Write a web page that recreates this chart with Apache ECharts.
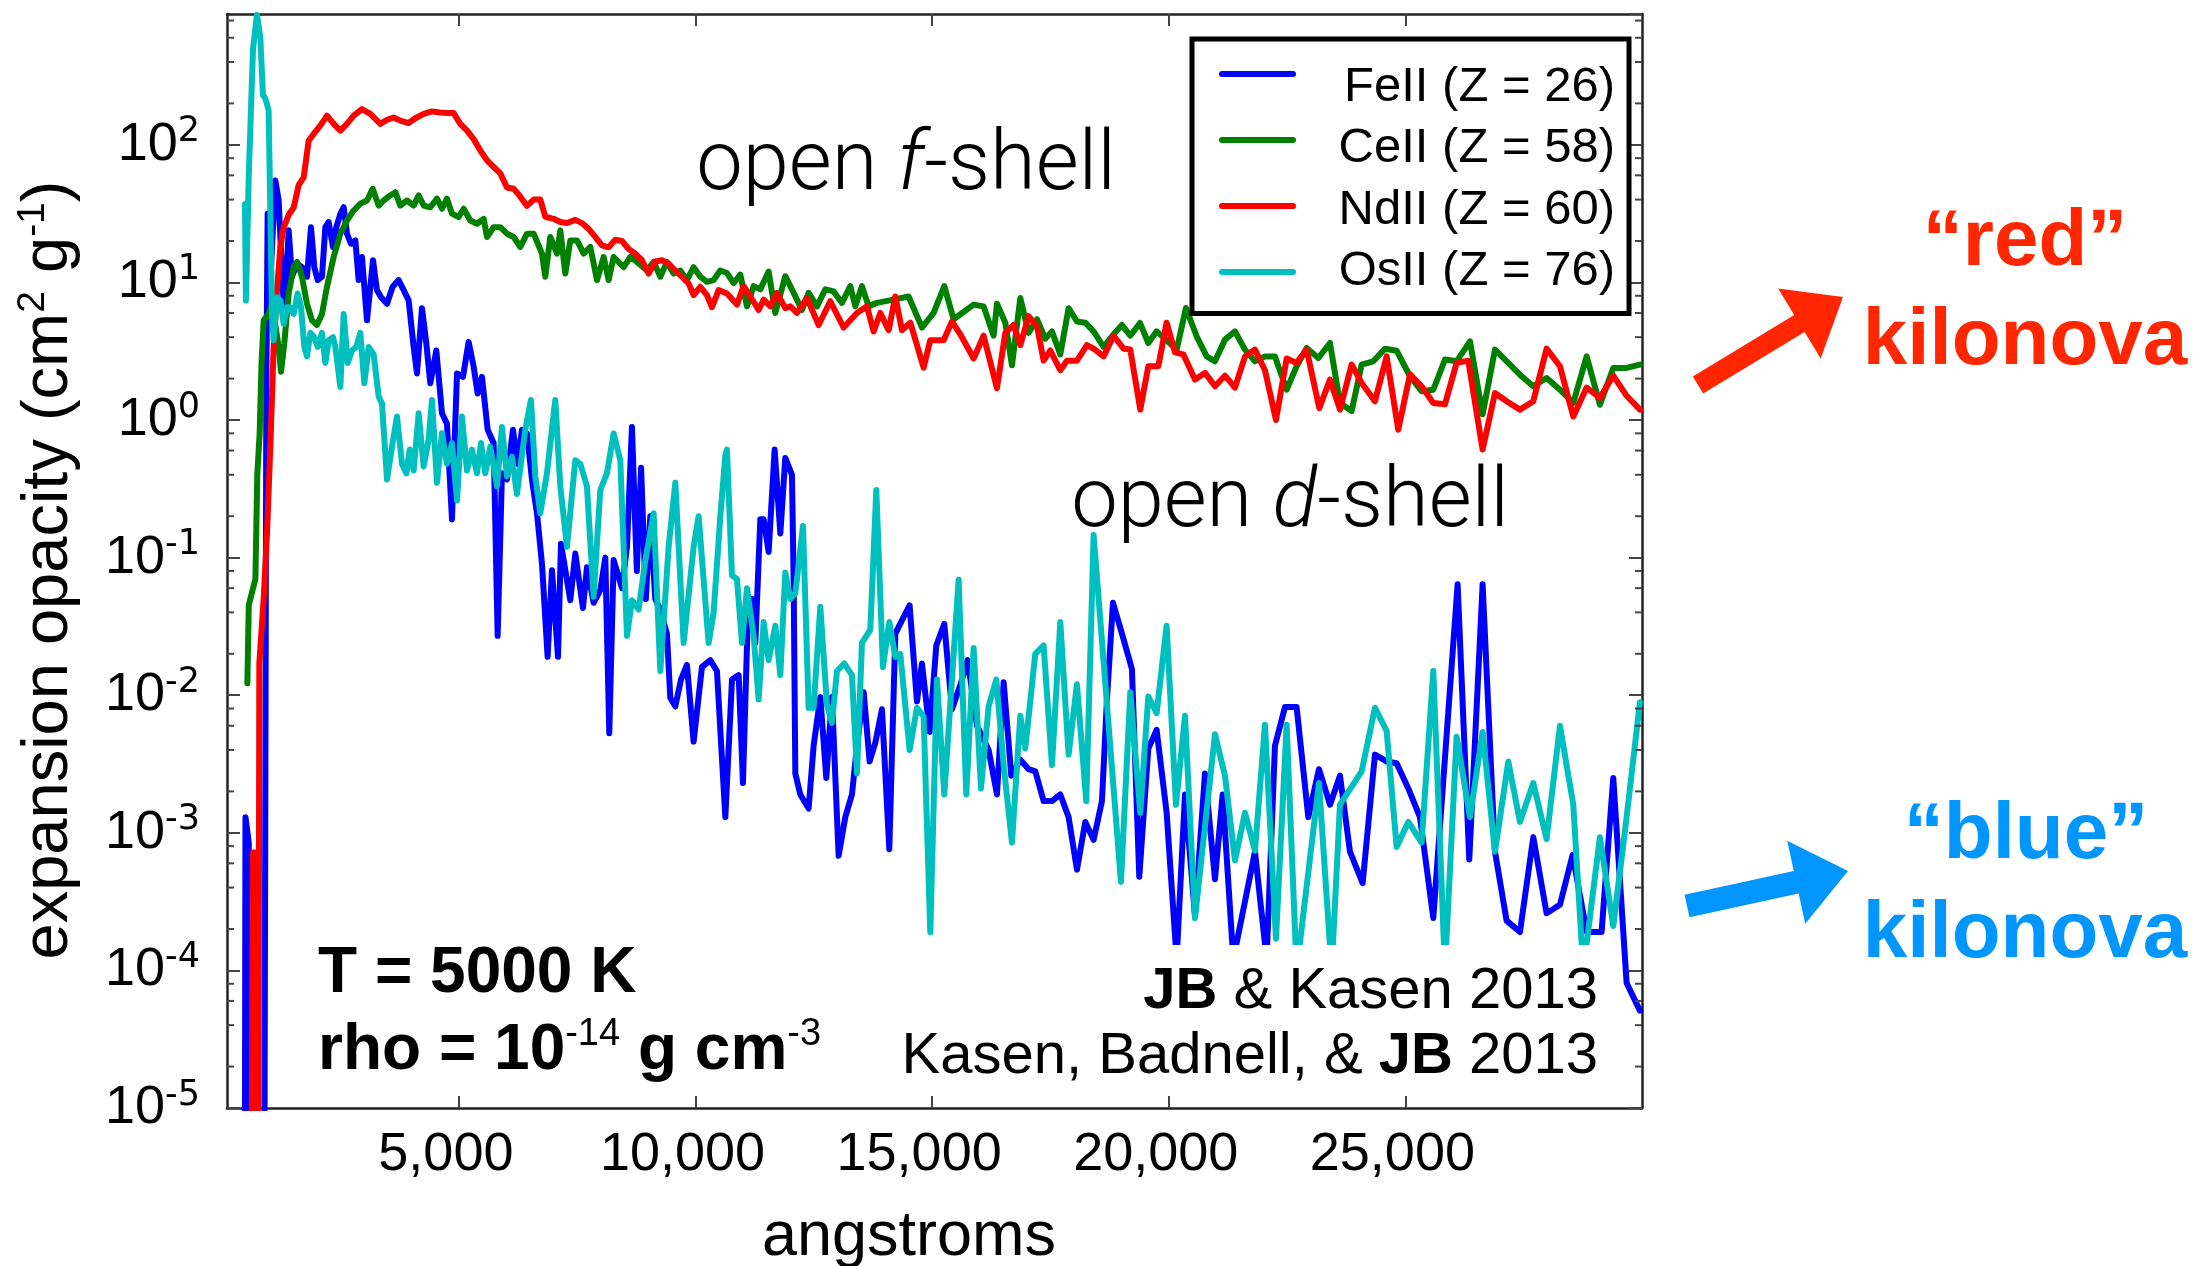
<!DOCTYPE html>
<html>
<head>
<meta charset="utf-8">
<title>Expansion opacity of FeII, CeII, NdII and OsII</title>
<script src="https://cdn.jsdelivr.net/npm/echarts@6/dist/echarts.min.js"></script>
<style>
  html, body { margin: 0; padding: 0; background: #ffffff; }
  #chart { width: 2207px; height: 1266px; }
</style>
</head>
<body>
<div id="chart"></div>
<script>
// ---------------------------------------------------------------------------
// Data: wavelength (angstroms) and expansion opacity (cm^2 g^-1).
// Values below 1e-5 sit under the axis floor and are clipped by the grid.
// ---------------------------------------------------------------------------
const seriesNames = ['FeII (Z = 26)', 'CeII (Z = 58)', 'NdII (Z = 60)', 'OsII (Z = 76)'];

const xTickValues = [5000, 10000, 15000, 20000, 25000];
const yMinorMantissas = [2, 4, 6, 8];
const xRange = [100, 30000];
const yRange = [1e-5, 893];

const feII = [
  [470,1e-7],[490,1.3e-3],[560,8.5e-4],[590,1e-7],[880,1e-7],[931,1.85],[959,31.5],[1030,12.9],[1121,55],[1192,39.5],
  [1262,11.6],[1311,5.9],[1403,23.9],[1473,11.0],[1579,13.7],[1685,12.9],[1790,11.0],[1875,25.2],[1945,12.9],[2016,10.4],
  [2107,11.0],[2178,25.2],[2248,27.5],[2340,18.1],[2410,25.2],[2495,31.5],[2565,35.2],[2635,22.6],[2720,19.1],[2812,20.2],
  [2882,10.4],[2952,15.3],[3058,5.3],[3185,14.5],[3269,8.8],[3354,7.8],[3481,7.0],[3600,9.3],[3727,10.4],[3833,8.8],
  [3938,7.4],[4044,3.4],[4114,2.18],[4220,6.5],[4312,3.6],[4396,1.85],[4523,3.2],[4643,1.12],[4748,0.94],[4854,0.19],
  [4960,2.18],[5087,2.06],[5206,3.7],[5312,2.44],[5396,1.56],[5488,2.06],[5608,0.85],[5734,0.68],[5819,0.027],[5910,0.41],
  [6016,0.37],[6143,0.85],[6241,0.48],[6333,0.85],[6439,0.80],[6544,0.37],[6650,0.21],[6756,0.09],[6875,0.019],[6967,0.081],
  [7094,0.019],[7157,0.126],[7354,0.049],[7460,0.107],[7622,0.043],[7706,0.085],[7847,0.047],[7988,0.058],[8094,0.1],[8178,0.0053],
  [8270,0.096],[8446,0.06],[8552,0.12],[8657,0.89],[8760,0.08],[8850,0.45],[8950,0.05],[9045,0.2],[9150,0.05],[9256,0.042],
  [9396,0.028],[9467,0.0096],[9573,0.0083],[9693,0.013],[9819,0.0166],[9960,0.0046],[10136,0.016],[10312,0.018],[10453,0.015],[10630,0.0013],
  [10771,0.013],[10912,0.014],[11003,0.0023],[11116,0.05],[11193,0.05],[11264,0.024],[11369,0.19],[11440,0.19],[11545,0.11],[11672,0.61],
  [11792,0.15],[11897,0.53],[12038,0.40],[12074,0.066],[12109,0.0027],[12214,0.0019],[12390,0.0015],[12496,0.0043],[12637,0.0097],[12764,0.0025],
  [12884,0.0097],[13024,6.8e-4],[13165,0.0013],[13306,0.0019],[13412,0.0043],[13553,0.0105],[13679,0.0033],[13799,0.0045],[13940,0.0079],[14095,7.6e-4],
  [14222,0.028],[14362,0.035],[14524,0.045],[14679,0.009],[14785,0.017],[14947,0.0054],[15088,0.023],[15257,0.033],[15419,0.0079],[15595,0.0118],
  [15750,0.018],[15948,0.006],[16194,0.0040],[16370,0.0019],[16511,0.0124],[16673,0.0026],[16863,0.0034],[17039,0.0029],[17180,0.0028],[17356,0.0017],
  [17532,0.0017],[17708,0.0019],[17884,0.0013],[18060,5.4e-4],[18236,0.0012],[18412,8.9e-4],[18588,0.0017],[18694,0.0093],[18821,0.047],[19011,0.028],
  [19222,0.0155],[19377,4.8e-4],[19568,0.0041],[19744,0.0056],[19955,0.0014],[20167,1.2e-4],[20343,0.0019],[20554,2.5e-4],[20765,0.0027],[20977,4.6e-4],
  [21139,0.0019],[21364,1.2e-4],[21822,7.3e-4],[22068,1.2e-4],[22244,0.0043],[22456,0.0082],[22702,0.0082],[22949,0.0013],[23174,0.0029],[23407,0.0016],
  [23618,0.0026],[23829,7.3e-4],[24097,4.3e-4],[24357,0.0037],[24604,0.0033],[24815,0.0032],[25062,0.0021],[25308,0.0013],[25590,2.4e-4],[26104,0.064],
  [26350,6.4e-4],[26632,0.064],[26893,7.3e-4],[27139,2.3e-4],[27421,1.9e-4],[27703,9.3e-4],[27984,2.6e-4],[28266,3.0e-4],[28534,6.9e-4],[28830,1.9e-4],
  [29146,1.9e-4],[29393,0.0025],[29675,8.1e-5],[29956,5.1e-5]
];

const ceII = [
  [530,0.0122],[560,0.045],[640,0.058],[700,0.07],[740,0.4],[790,0.8],[830,2.6],[875,5.3],[980,5.9],[1051,7.0],
  [1192,3.4],[1241,2.24],[1311,3.6],[1403,8.3],[1509,12.9],[1579,14.1],[1685,11.0],[1790,7.0],[1896,5.3],[2002,4.9],
  [2107,5.9],[2213,9.3],[2354,15.3],[2495,22.6],[2635,28.2],[2776,33.3],[2917,37.3],[3058,39.4],[3178,47.9],[3305,36.2],
  [3410,39.4],[3551,42.9],[3657,45.3],[3762,36.2],[3903,39.4],[4044,36.2],[4150,42.9],[4255,36.2],[4396,35.2],[4537,40.6],
  [4643,34.3],[4748,40.6],[4854,31.6],[4995,29.9],[5101,34.3],[5241,28.2],[5382,26.7],[5523,29.0],[5594,21.4],[5734,25.2],
  [5875,25.2],[6016,22.6],[6157,21.4],[6298,18.1],[6439,22.6],[6580,22.6],[6756,16.2],[6826,11.0],[6932,21.4],[7073,16.2],
  [7143,23.9],[7249,11.6],[7354,20.2],[7495,20.2],[7636,16.2],[7777,18.1],[7918,10.4],[8059,15.3],[8164,10.4],[8270,15.3],
  [8481,12.9],[8622,15.3],[8763,14.1],[8974,12.2],[9115,14.1],[9256,11.0],[9396,14.1],[9537,11.6],[9678,12.2],[9819,10.4],
  [9960,12.9],[10101,11.0],[10242,10.1],[10383,10.4],[10524,12.2],[10665,11.7],[10806,9.9],[10947,11.4],[11088,6.7],[11228,9.4],
  [11369,8.9],[11545,12.0],[11686,6.0],[11897,11.1],[12074,8.4],[12250,6.3],[12390,8.4],[12567,6.7],[12743,8.9],[12919,8.6],
  [13095,7.1],[13271,9.4],[13377,6.7],[13517,9.4],[13658,6.7],[13834,7.1],[14187,7.5],[14503,7.9],[14785,4.7],[15032,6.0],
  [15257,9.4],[15454,5.4],[15877,6.9],[16088,6.7],[16299,4.1],[16370,7.0],[16546,5.1],[16687,2.5],[16863,7.7],[17039,4.3],
  [17215,5.4],[17391,3.9],[17532,4.4],[17708,3.0],[17884,6.5],[18060,5.2],[18236,5.1],[18412,4.4],[18624,3.4],[18835,4.2],
  [19011,4.9],[19187,4.1],[19392,5.07],[19568,3.63],[19744,4.41],[20167,3.25],[20364,6.52],[20589,4.06],[20801,2.90],[20977,2.67],
  [21188,3.84],[21399,4.41],[21611,3.25],[21822,2.67],[22033,2.90],[22244,2.90],[22491,1.66],[22702,2.46],[22914,3.34],[23160,2.82],
  [23407,3.63],[23618,1.33],[23864,1.16],[24076,2.53],[24322,2.67],[24569,3.30],[24815,3.19],[25097,2.08],[25343,1.62],[25590,1.66],
  [25836,2.75],[26083,2.67],[26365,3.73],[26632,1.10],[26893,3.25],[27175,2.60],[27456,2.08],[27703,1.76],[27984,2.02],[28266,1.66],
  [28548,1.33],[28830,2.90],[29111,1.29],[29393,2.39],[29675,2.39],[29956,2.53]
];

const ndII = [
  [600,1e-7],[650,7.2e-4],[730,7.2e-4],[755,1e-7],[783,0.017],[875,0.05],[945,0.15],[1016,0.65],[1086,3.4],[1156,8.7],
  [1227,18],[1297,25],[1403,31],[1509,35],[1614,51],[1720,58],[1825,107],[1931,120],[2072,138],[2213,163],
  [2354,142],[2495,127],[2635,142],[2776,163],[2952,182],[3128,168],[3340,142],[3481,152],[3622,158],[3762,150],
  [3938,144],[4079,156],[4255,168],[4431,175],[4607,172],[4784,170],[4889,170],[5030,142],[5171,127],[5312,110],
  [5453,91],[5594,77],[5734,69],[5875,62],[6016,49],[6157,48],[6298,42],[6439,36],[6580,40],[6720,40],
  [6826,30],[7002,29],[7143,27.5],[7284,27],[7460,28.5],[7600,27],[7741,24.5],[7882,21.4],[8023,18.6],[8164,18],
  [8305,20.4],[8446,20],[8587,17.5],[8728,16.2],[8868,14.5],[9009,11.6],[9150,14.2],[9291,14.5],[9432,13.7],[9573,12.2],
  [9714,11],[9855,9.8],[9960,8.1],[10101,9.3],[10242,8.1],[10348,6.6],[10488,8.8],[10665,8.3],[10876,6.9],[11017,9.4],
  [11158,7.9],[11334,6.3],[11440,7.5],[11581,6.7],[11721,8.4],[11897,6.5],[12003,6.7],[12144,6.0],[12355,7.7],[12602,4.9],
  [12848,7.3],[13130,4.7],[13412,6.0],[13623,6.7],[13764,4.4],[13905,6.0],[14081,4.5],[14222,7.9],[14362,4.5],[14539,5.1],
  [14820,2.4],[14961,3.8],[15243,3.8],[15419,5.2],[15595,4.2],[15877,2.8],[16088,4.1],[16370,1.7],[16546,4.3],[16722,4.9],
  [16863,3.5],[17039,5.7],[17215,4.8],[17356,2.7],[17497,3.2],[17708,2.3],[17849,2.7],[18060,2.7],[18271,3.5],[18412,3.3],
  [18624,2.9],[18835,4.1],[19046,3.3],[19187,3.25],[19398,1.19],[19568,2.46],[19779,2.46],[19955,5.1],[20132,3.1],[20308,3.0],
  [20554,1.97],[20765,2.2],[20977,1.76],[21188,2.1],[21399,1.72],[21611,2.9],[21822,3.25],[22033,2.3],[22266,1.0],[22491,2.8],
  [22702,2.6],[22914,3.25],[23181,1.22],[23407,1.97],[23618,1.19],[23864,2.53],[24076,1.86],[24357,1.37],[24604,2.9],[24850,0.85],
  [25097,2.15],[25343,1.76],[25590,1.33],[25836,1.30],[26083,2.6],[26329,2.7],[26632,0.61],[26893,1.57],[27139,1.37],[27421,1.19],
  [27703,1.37],[27984,3.3],[28266,2.46],[28548,1.06],[28830,1.72],[29111,1.45],[29393,2.1],[29675,1.5],[29956,1.19]
];

const osII = [
  [480,37],[500,7.4],[560,60],[650,500],[734,880],[804,604],[860,230],[900,221],[945,198],[980,177],
  [1016,32],[1051,5.9],[1086,3.8],[1156,7.8],[1227,7.4],[1297,5.0],[1368,6.6],[1438,6.6],[1509,5.9],[1593,8.3],
  [1664,6.6],[1734,3.4],[1790,2.9],[1861,4.3],[1945,4.0],[2016,3.4],[2107,4.3],[2178,2.6],[2248,3.8],[2340,4.0],
  [2389,3.4],[2495,1.74],[2565,5.9],[2650,2.6],[2741,3.2],[2833,3.4],[2917,4.3],[3002,1.85],[3093,3.4],[3199,3.0],
  [3305,1.48],[3375,1.32],[3481,0.37],[3586,0.64],[3692,1.06],[3798,0.48],[3889,0.41],[3960,0.61],[4044,0.43],[4150,1.12],
  [4255,0.46],[4361,0.72],[4431,1.40],[4537,0.35],[4643,0.80],[4748,0.48],[4854,0.68],[4960,0.26],[5065,1.06],[5171,0.43],
  [5277,0.61],[5382,0.41],[5467,0.68],[5558,0.41],[5664,0.64],[5805,0.33],[5910,0.89],[6016,0.39],[6122,0.54],[6227,0.29],
  [6403,0.85],[6523,1.40],[6615,0.39],[6720,0.21],[6861,0.41],[7037,1.40],[7143,0.33],[7284,0.12],[7460,0.51],[7566,0.48],
  [7706,0.33],[7847,0.052],[7988,0.31],[8129,0.41],[8270,0.80],[8411,0.51],[8552,0.027],[8657,0.049],[8798,0.042],[8939,0.095],
  [9115,0.21],[9256,0.015],[9432,0.12],[9573,0.35],[9749,0.024],[9960,0.12],[10066,0.2],[10277,0.024],[10383,0.04],[10524,0.2],
  [10630,0.55],[10665,0.61],[10771,0.074],[10876,0.07],[10982,0.024],[11088,0.06],[11228,0.027],[11334,0.0093],[11440,0.034],[11545,0.018],
  [11686,0.032],[11792,0.014],[11897,0.078],[12003,0.05],[12109,0.055],[12271,0.17],[12390,0.0081],[12496,0.0081],[12637,0.044],[12778,0.0085],
  [12884,0.0063],[12989,0.015],[13144,0.017],[13306,0.014],[13412,0.0027],[13517,0.024],[13694,0.03],[13820,0.31],[13961,0.016],[14095,0.034],
  [14222,0.019],[14327,0.020],[14524,0.0040],[14679,0.0081],[14820,0.007],[14961,1.9e-4],[15102,0.013],[15257,0.0019],[15419,0.013],[15560,0.069],
  [15722,0.0019],[15877,0.022],[16032,0.0021],[16194,0.0083],[16356,0.013],[16511,0.0031],[16687,8.5e-4],[16863,0.0071],[16968,0.0041],[17180,0.020],
  [17356,0.023],[17532,0.0031],[17708,0.034],[17884,0.0037],[18060,0.012],[18257,0.0017],[18412,0.146],[18990,4.4e-4],[19187,0.0105],[19398,0.0014],
  [19568,0.0098],[19744,0.0074],[19955,0.032],[20153,0.0016],[20343,0.0071],[20554,2.4e-4],[20977,0.0052],[21188,0.0026],[21399,6.3e-4],[21611,0.0014],
  [21822,7.4e-4],[22033,0.0061],[22266,1.7e-4],[22491,0.0061],[22702,1e-4],[23174,0.0023],[23442,1e-4],[23618,0.0016],[24076,0.0028],[24357,0.0081],
  [24604,0.0055],[24815,7.9e-4],[25062,0.0012],[25343,8.5e-4],[25590,0.015],[25836,1e-4],[26083,0.0050],[26365,0.0013],[26632,0.0054],[26893,7.3e-4],
  [27175,0.0033],[27421,0.0012],[27703,0.0023],[27984,9e-4],[28266,0.0060],[28548,0.0016],[28759,1e-4],[29111,9.3e-4],[29393,2.1e-4],[29675,0.0013],
  [29956,0.0089]
];

// ---------------------------------------------------------------------------
// Styling and layout
// ---------------------------------------------------------------------------
const FONT = '"Liberation Sans", Arial, Helvetica, sans-serif';
const SUP_FONT = '"DejaVu Sans", "Liberation Sans", sans-serif';
const LIGHT_FONT = 'Roboto, "Liberation Sans", Arial, sans-serif';
const lineColors = ['#0000ff', '#008000', '#ff0000', '#00bfbf'];
const seriesData = [feII, ceII, ndII, osII];
const RED_NOTE = '#ff2600';
const BLUE_NOTE = '#0096ff';

const GRID = { left: 227, top: 14, width: 1415, height: 1094 };
const AXIS_COLOR = '#222222';
const TICK_COLOR = '#444444';
const LINE_WIDTH = 6;

const chart = echarts.init(document.getElementById('chart'), null, { renderer: 'canvas' });

// rich-text styles: base token "b" plus a raised, smaller token "s"
const supRich = (base, sup, weight, supWeight, supFamily, supLine) => ({
  b: { fontSize: base, fontFamily: FONT, fontWeight: weight, color: '#000', fill: '#000', lineHeight: base + 6 },
  s: {
    fontSize: sup, fontFamily: supFamily || FONT, fontWeight: supWeight, color: '#000', fill: '#000',
    verticalAlign: 'top', lineHeight: supLine || Math.round(sup * 1.3)
  }
});

// Legend entries: one legend draws the framed box with the line keys,
// a second one (no frame) sets the right-aligned labels.
const legendLabelStyle = color => ({
  color,
  fontSize: 49,
  fontFamily: FONT,
  rich: { r: { width: 317, align: 'right', fontSize: 49, lineHeight: 56, fontFamily: FONT, color } }
});

const option = {
  animation: false,
  backgroundColor: '#ffffff',
  textStyle: { fontFamily: FONT },
  grid: Object.assign({ containLabel: false }, GRID),
  legend: [
    {
      orient: 'vertical',
      z: 4,
      left: 1192,
      top: 39,
      backgroundColor: '#ffffff',
      borderColor: '#000000',
      borderWidth: 5,
      padding: [10.6, 14, 17, 27],
      itemWidth: 71,
      itemHeight: 56,
      itemGap: 17,
      itemStyle: { opacity: 0 },
      lineStyle: { width: LINE_WIDTH },
      selectedMode: false,
      data: seriesNames,
      formatter: name => `{r|${name}}`,
      textStyle: legendLabelStyle('rgba(0,0,0,0)')
    },
    {
      orient: 'vertical',
      z: 5,
      left: 1219,
      top: 62.6,
      padding: 0,
      itemWidth: 71,
      itemHeight: 56,
      itemGap: 12.6,
      itemStyle: { opacity: 0 },
      lineStyle: { width: LINE_WIDTH, opacity: 0 },
      selectedMode: false,
      data: seriesNames,
      formatter: name => `{r|${name}}`,
      textStyle: legendLabelStyle('#000')
    }
  ],
  xAxis: [
    {
      type: 'value', position: 'bottom', min: xRange[0], max: xRange[1],
      axisLine: { show: true, onZero: false, lineStyle: { color: AXIS_COLOR, width: 2.5 } },
      axisTick: { show: true, inside: true, length: 12, customValues: xTickValues, lineStyle: { color: TICK_COLOR, width: 2 } },
      axisLabel: {
        show: true, customValues: xTickValues, margin: 20, fontSize: 54, color: '#000', fontFamily: FONT,
        padding: [0, 26, 0, 0],
        formatter: v => Number(v).toLocaleString('en-US')
      },
      splitLine: { show: false }
    },
    {
      type: 'value', position: 'top', min: xRange[0], max: xRange[1],
      axisLine: { show: true, onZero: false, lineStyle: { color: AXIS_COLOR, width: 2.5 } },
      axisTick: { show: true, inside: true, length: 12, customValues: xTickValues, lineStyle: { color: TICK_COLOR, width: 2 } },
      axisLabel: { show: false },
      splitLine: { show: false }
    }
  ],
  yAxis: [
    {
      type: 'log', logBase: 10, position: 'left', min: yRange[0], max: yRange[1],
      axisLine: { show: true, onZero: false, lineStyle: { color: AXIS_COLOR, width: 2.5 } },
      axisTick: { show: true, inside: true, length: 13, lineStyle: { color: TICK_COLOR, width: 2 } },
      axisLabel: {
        show: true, margin: 27, showMaxLabel: false, showMinLabel: true,
        formatter: v => `{b|10}{s|${Math.round(Math.log10(v))}}`,
        rich: supRich(54, 35, 'normal', 'normal', SUP_FONT, 45)
      },
      splitLine: { show: false }
    },
    {
      type: 'log', logBase: 10, position: 'right', min: yRange[0], max: yRange[1],
      axisLine: { show: true, onZero: false, lineStyle: { color: AXIS_COLOR, width: 2.5 } },
      axisTick: { show: true, inside: true, length: 13, lineStyle: { color: TICK_COLOR, width: 2 } },
      axisLabel: { show: false },
      splitLine: { show: false }
    }
  ],
  series: seriesNames.map((name, i) => ({
    name,
    type: 'line',
    xAxisIndex: 0,
    yAxisIndex: 0,
    data: seriesData[i],
    symbol: 'none',
    showSymbol: false,
    clip: true,
    z: 2,
    lineStyle: { color: lineColors[i], width: LINE_WIDTH, join: 'round', cap: 'round' },
    itemStyle: { color: lineColors[i] },
    emphasis: { disabled: true }
  }))
};

chart.setOption(option);

// ---------------------------------------------------------------------------
// Minor log ticks, annotations and arrows
// ---------------------------------------------------------------------------
function arrowShape(tail, tip, shaftW, headL, headW) {
  const dx = tip[0] - tail[0], dy = tip[1] - tail[1];
  const len = Math.hypot(dx, dy);
  const ux = dx / len, uy = dy / len, px = -uy, py = ux;
  const bx = tip[0] - ux * headL, by = tip[1] - uy * headL;
  return [
    [tail[0] + px * shaftW / 2, tail[1] + py * shaftW / 2],
    [bx + px * shaftW / 2, by + py * shaftW / 2],
    [bx + px * headW / 2, by + py * headW / 2],
    [tip[0], tip[1]],
    [bx - px * headW / 2, by - py * headW / 2],
    [bx - px * shaftW / 2, by - py * shaftW / 2],
    [tail[0] - px * shaftW / 2, tail[1] - py * shaftW / 2]
  ];
}

const graphics = [];
const gl = GRID.left, gr = GRID.left + GRID.width;
for (let e = -5; e <= 2; e++) {
  yMinorMantissas.forEach(m => {
    const v = m * Math.pow(10, e);
    if (v >= yRange[1]) return;
    const y = chart.convertToPixel({ yAxisIndex: 0 }, v);
    graphics.push(
      { type: 'line', z: 10, shape: { x1: gl, y1: y, x2: gl + 7, y2: y }, style: { stroke: TICK_COLOR, lineWidth: 2 } },
      { type: 'line', z: 10, shape: { x1: gr - 7, y1: y, x2: gr, y2: y }, style: { stroke: TICK_COLOR, lineWidth: 2 } }
    );
  });
}

// white panel behind the references
graphics.push({ type: 'rect', z: 20, shape: { x: 890, y: 945, width: 728, height: 147 }, style: { fill: '#ffffff' } });

const textEl = (x, y, text, rich, align, extra) => Object.assign({
  type: 'text', z: 30, x, y,
  style: { text, rich, align, verticalAlign: 'middle', fill: '#000' }
}, extra || {});

const plainRich = (size, weight, color, family, italic) => ({
  fontSize: size, fontWeight: weight || 'normal', fontFamily: family || FONT,
  fontStyle: italic ? 'italic' : 'normal', color, fill: color
});

// y axis title
graphics.push(textEl(49, 570, '{b|expansion opacity (cm}{s|2}{b| g}{s|-1}{b|)}', supRich(65, 39, 'normal', 'normal'), 'center',
  { rotation: Math.PI / 2 }));
// x axis title
graphics.push(textEl(909, 1238, '{b|angstroms}', { b: plainRich(63, 'normal', '#000') }, 'center'));

// shell labels
const lightRich = {
  n: plainRich(83, 300, '#000', LIGHT_FONT),
  i: plainRich(83, 300, '#000', LIGHT_FONT, true)
};
graphics.push(textEl(906, 168, '{n|open }{i|f}{n|-shell}', lightRich, 'center'));
graphics.push(textEl(1290, 505, '{n|open }{i|d}{n|-shell}', lightRich, 'center'));

// conditions
graphics.push(textEl(318, 974, '{b|T = 5000 K}', { b: plainRich(64, 'bold', '#000') }, 'left'));
graphics.push(textEl(318, 1051, '{b|rho = 10}{s|-14}{b| g cm}{s|-3}', supRich(64, 38, 'bold', 'normal'), 'left'));

// references
const refRich = { b: plainRich(58, 'bold', '#000'), n: plainRich(58, 'normal', '#000') };
graphics.push(textEl(1598, 992, '{b|JB}{n| & Kasen 2013}', refRich, 'right'));
graphics.push(textEl(1598, 1057, '{n|Kasen, Badnell, & }{b|JB}{n| 2013}', refRich, 'right'));

// kilonova callouts
const noteRich = c => ({ k: plainRich(80, 'bold', c) });
graphics.push(textEl(2025, 243, '{k|\u201Cred\u201D}', noteRich(RED_NOTE), 'center'));
graphics.push(textEl(2025, 342, '{k|kilonova}', noteRich(RED_NOTE), 'center'));
graphics.push(textEl(2026, 836, '{k|\u201Cblue\u201D}', noteRich(BLUE_NOTE), 'center'));
graphics.push(textEl(2025, 935, '{k|kilonova}', noteRich(BLUE_NOTE), 'center'));

graphics.push({ type: 'polygon', z: 30, shape: { points: arrowShape([1698, 385], [1843, 297], 20, 51, 82) }, style: { fill: RED_NOTE } });
graphics.push({ type: 'polygon', z: 30, shape: { points: arrowShape([1687, 906], [1848, 871], 23, 53, 85) }, style: { fill: BLUE_NOTE } });

chart.setOption({ graphic: { elements: graphics } });
</script>
</body>
</html>
